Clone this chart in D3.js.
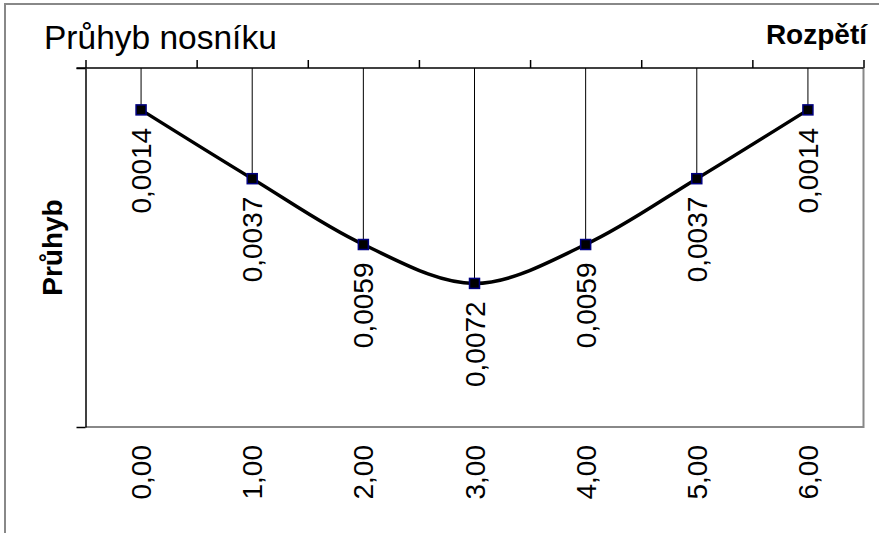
<!DOCTYPE html>
<html>
<head>
<meta charset="utf-8">
<script src="https://cdn.jsdelivr.net/npm/d3@7"></script>
<style>
  body { margin: 0; background: #fff; }
  svg text { font-family: "Liberation Sans", Arial, sans-serif; fill: #000; }
</style>
</head>
<body>
<script>
//////////////// Data ////////////////////
var rozpeti = [0, 1, 2, 3, 4, 5, 6];
var xLabels = ["0,00", "1,00", "2,00", "3,00", "4,00", "5,00", "6,00"];
var pruhyb = [0.0014, 0.0037, 0.0059, 0.0072, 0.0059, 0.0037, 0.0014];
var yDomain = [0, 0.012];

var W = 879, H = 533;
var plot = {left: 85.5, right: 863.5, top: 68, bottom: 427};

var svg = d3.select("body").append("svg")
  .attr("width", W)
  .attr("height", H);

// outer frame
svg.append("rect")
  .attr("x", 5).attr("y", 4)
  .attr("width", 920).attr("height", 600)
  .attr("fill", "none")
  .attr("stroke", "#888")
  .attr("stroke-width", 2);

//////////////// Scales ////////////////////
var xScale = d3.scaleBand()
  .domain(rozpeti)
  .range([plot.left, plot.right])
  .padding(0);
var xEdge = d3.scaleLinear()
  .domain([0, rozpeti.length])
  .range([plot.left, plot.right]);
var yScale = d3.scaleLinear()
  .domain(yDomain)
  .range([plot.top, plot.bottom]);

function cx(d, i) { return xScale(rozpeti[i]) + xScale.bandwidth() / 2; }

// plot area border (right + bottom, grey)
svg.append("path")
  .attr("d", "M" + plot.right + "," + plot.top + "V" + plot.bottom + "H" + plot.left)
  .attr("fill", "none")
  .attr("stroke", "#888")
  .attr("stroke-width", 2);

//////////////// Axes ////////////////////
var xAxis = d3.axisTop(xEdge)
  .tickValues(d3.range(rozpeti.length + 1))
  .tickSize(8)
  .tickSizeOuter(0)
  .tickFormat("");
var yAxis = d3.axisLeft(yScale)
  .tickValues(yDomain)
  .tickSize(9)
  .tickSizeOuter(0)
  .tickFormat("");

var gx = svg.append("g")
  .attr("transform", "translate(0," + plot.top + ")")
  .call(xAxis);
var gy = svg.append("g")
  .attr("transform", "translate(" + plot.left + ",0)")
  .call(yAxis);
svg.selectAll(".domain, .tick line").attr("stroke", "#000").attr("stroke-width", 1.5);
gx.select(".domain").attr("d", "M" + (plot.left - 9) + ",0H" + plot.right);

// x tick labels (rotated)
svg.append("g").selectAll("text")
  .data(xLabels)
  .enter().append("text")
  .attr("transform", function(d, i) { return "translate(" + cx(d, i) + ",445) rotate(-90)"; })
  .attr("dy", "0.36em")
  .style("text-anchor", "end")
  .style("font-size", "28px")
  .text(function(d) { return d; });

//////////////// Drop lines ////////////////////
svg.append("g").selectAll("line")
  .data(pruhyb)
  .enter().append("line")
  .attr("x1", cx).attr("x2", cx)
  .attr("y1", plot.top)
  .attr("y2", function(d) { return yScale(d); })
  .attr("stroke", "#000")
  .attr("stroke-width", 1);

//////////////// Line ////////////////////
var line = d3.line()
  .x(cx)
  .y(function(d) { return yScale(d); })
  .curve(d3.curveCatmullRom.alpha(0.5));

svg.append("path")
  .datum(pruhyb)
  .attr("d", line)
  .attr("fill", "none")
  .attr("stroke", "#000")
  .attr("stroke-width", 3.5);

//////////////// Markers ////////////////////
var ms = 10;
svg.append("g").selectAll("rect")
  .data(pruhyb)
  .enter().append("rect")
  .attr("x", function(d, i) { return cx(d, i) - ms / 2; })
  .attr("y", function(d) { return yScale(d) - ms / 2; })
  .attr("width", ms).attr("height", ms)
  .attr("fill", "#000")
  .attr("stroke", "#000080")
  .attr("stroke-width", 1.5);

//////////////// Data labels ////////////////////
var fmt = function(v) { return d3.format(".4f")(v).replace(".", ","); };
svg.append("g").selectAll("text")
  .data(pruhyb)
  .enter().append("text")
  .attr("transform", function(d, i) { return "translate(" + cx(d, i) + "," + (yScale(d) + 18) + ") rotate(-90)"; })
  .attr("dy", "0.36em")
  .style("text-anchor", "end")
  .style("font-size", "28px")
  .text(fmt);

//////////////// Titles ////////////////////
svg.append("text")
  .attr("x", 44).attr("y", 49)
  .style("font-size", "33.5px")
  .text("Průhyb nosníku");

svg.append("text")
  .attr("x", 867).attr("y", 44)
  .style("text-anchor", "end")
  .style("font-size", "28px")
  .style("font-weight", "bold")
  .text("Rozpětí");

svg.append("text")
  .attr("transform", "translate(62," + ((plot.top + plot.bottom) / 2) + ") rotate(-90)")
  .style("text-anchor", "middle")
  .style("font-size", "28px")
  .style("font-weight", "bold")
  .text("Průhyb");
</script>
</body>
</html>
